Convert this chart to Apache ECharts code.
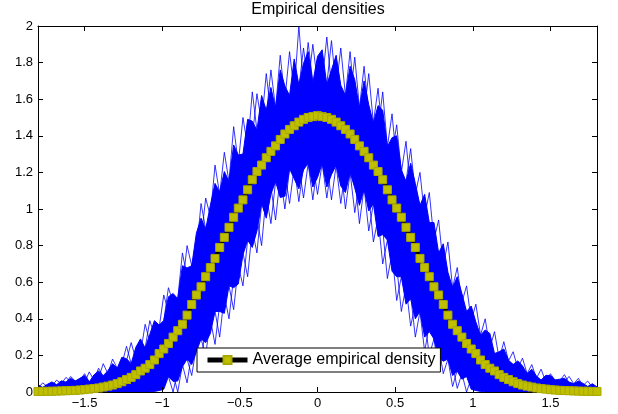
<!DOCTYPE html>
<html>
<head>
<meta charset="utf-8">
<script src="https://cdn.jsdelivr.net/npm/echarts@6/dist/echarts.min.js"></script>
<style>
html,body{margin:0;padding:0;background:#fff;}
#chart{width:618px;height:414px;}
</style>
</head>
<body>
<div id="chart"></div>
<script>
// sample grid (x)
const xs = [-1.8,-1.77,-1.74,-1.71,-1.68,-1.65,-1.62,-1.59,-1.56,-1.53,
  -1.5,-1.47,-1.44,-1.41,-1.38,-1.35,-1.32,-1.29,-1.26,-1.23,
  -1.2,-1.17,-1.14,-1.11,-1.08,-1.05,-1.02,-0.99,-0.96,-0.93,
  -0.9,-0.87,-0.84,-0.81,-0.78,-0.75,-0.72,-0.69,-0.66,-0.63,
  -0.6,-0.57,-0.54,-0.51,-0.48,-0.45,-0.42,-0.39,-0.36,-0.33,
  -0.3,-0.27,-0.24,-0.21,-0.18,-0.15,-0.12,-0.09,-0.06,-0.03,
  0,
  0.03,0.06,0.09,0.12,0.15,0.18,0.21,0.24,0.27,0.3,
  0.33,0.36,0.39,0.42,0.45,0.48,0.51,0.54,0.57,0.6,
  0.63,0.66,0.69,0.72,0.75,0.78,0.81,0.84,0.87,0.9,
  0.93,0.96,0.99,1.02,1.05,1.08,1.11,1.14,1.17,1.2,
  1.23,1.26,1.29,1.32,1.35,1.38,1.41,1.44,1.47,1.5,
  1.53,1.56,1.59,1.62,1.65,1.68,1.71,1.74,1.77,1.8];

// average empirical density
const average = [0.003,0.003,0.004,0.004,0.005,0.006,0.007,0.008,0.009,0.011,
  0.013,0.016,0.019,0.022,0.027,0.032,0.038,0.046,0.056,0.068,
  0.08,0.095,0.115,0.13,0.15,0.175,0.21,0.235,0.265,0.30,
  0.335,0.37,0.42,0.478,0.53,0.575,0.63,0.68,0.73,0.79,
  0.845,0.90,0.955,1.005,1.05,1.105,1.16,1.205,1.24,1.28,
  1.315,1.345,1.38,1.41,1.435,1.455,1.475,1.49,1.50,1.505,
  1.51,
  1.505,1.50,1.49,1.475,1.455,1.435,1.41,1.38,1.345,1.315,
  1.28,1.24,1.205,1.16,1.105,1.05,1.005,0.955,0.90,0.845,
  0.79,0.73,0.68,0.63,0.575,0.53,0.478,0.42,0.37,0.335,
  0.30,0.265,0.235,0.21,0.175,0.15,0.13,0.115,0.095,0.08,
  0.068,0.056,0.046,0.038,0.032,0.027,0.022,0.019,0.016,0.013,
  0.011,0.009,0.008,0.007,0.006,0.005,0.004,0.004,0.003,0.003];

// upper (spiky) edge of the band of empirical densities
const bandTop = [0.04,0.025,0.042,0.055,0.04,0.061,0.054,0.075,0.06,0.075,
  0.09,0.055,0.093,0.115,0.089,0.116,0.155,0.13,0.19,0.182,
  0.155,0.244,0.29,0.24,0.315,0.39,0.366,0.39,0.52,0.538,
  0.51,0.69,0.678,0.69,0.868,0.95,0.89,1.02,1.14,1.092,
  1.205,1.15,1.35,1.295,1.30,1.49,1.48,1.43,1.62,1.54,
  1.664,1.55,1.76,1.672,1.62,1.82,1.678,1.796,1.86,1.69,
  1.834,
  1.87,1.68,1.76,1.84,1.676,1.62,1.78,1.706,1.55,1.70,
  1.57,1.47,1.565,1.54,1.34,1.39,1.40,1.215,1.15,1.25,
  1.14,1.02,1.08,0.926,0.926,0.76,0.81,0.654,0.57,0.63,
  0.538,0.44,0.47,0.382,0.31,0.339,0.32,0.21,0.22,0.235,
  0.174,0.15,0.17,0.143,0.10,0.125,0.087,0.065,0.091,0.09,
  0.065,0.07,0.075,0.054,0.045,0.06,0.047,0.03,0.045,0.028];

// lower (spiky) edge of the band
const bandBottom = [0,0,0,0,0,0,0,0,0,0,
  0,0,0,0,0,0,0,0,0,0,
  0,0,0,0,0,0.003,0.008,0.015,0.085,0.058,
  0.06,0.138,0.18,0.15,0.22,0.29,0.27,0.32,0.44,0.44,
  0.43,0.58,0.57,0.59,0.75,0.83,0.79,0.88,1.03,0.95,
  1.081,1.15,1.063,1.07,1.22,1.165,1.11,1.214,1.25,1.12,
  1.172,
  1.25,1.12,1.188,1.24,1.126,1.09,1.20,1.115,1.02,1.107,
  0.989,1.03,0.85,0.86,0.83,0.66,0.63,0.63,0.48,0.51,
  0.40,0.44,0.30,0.33,0.29,0.19,0.168,0.18,0.09,0.114,
  0.07,0.085,0.015,0.008,0.003,0,0,0,0,0,
  0,0,0,0,0,0,0,0,0,0,
  0,0,0,0,0,0,0,0,0,0];

// single curves sticking out above the band
const strandHigh = [0.02,0.025,0.03,0.035,0.04,0.045,0.08,0.055,0.06,0.065,
  0.05,0.11,0.065,0.075,0.155,0.10,0.115,0.13,0.15,0.25,
  0.155,0.18,0.21,0.37,0.275,0.31,0.35,0.53,0.44,0.49,
  0.51,0.76,0.63,0.69,0.76,1.03,0.89,0.96,1.24,1.08,
  1.10,1.15,1.45,1.25,1.30,1.34,1.64,1.43,1.47,1.74,
  1.52,1.55,1.84,1.60,1.62,1.64,2.0,1.67,1.91,1.69,
  1.69,
  1.69,1.94,1.67,1.66,1.88,1.62,1.60,1.83,1.55,1.52,
  1.74,1.47,1.43,1.64,1.34,1.30,1.46,1.20,1.15,1.33,
  1.08,1.02,0.96,1.09,0.83,0.76,0.69,0.82,0.57,0.51,
  0.49,0.58,0.39,0.35,0.31,0.40,0.24,0.21,0.18,0.275,
  0.17,0.15,0.13,0.185,0.10,0.085,0.075,0.125,0.055,0.05,
  0.065,0.06,0.095,0.05,0.045,0.075,0.035,0.03,0.025,0.02];

const strandHigh2 = [0.02,0.05,0.03,0.035,0.065,0.045,0.05,0.085,0.06,0.065,
  0.10,0.055,0.065,0.13,0.085,0.10,0.18,0.13,0.15,0.17,
  0.27,0.18,0.21,0.24,0.39,0.31,0.35,0.39,0.57,0.49,
  0.51,0.57,0.80,0.69,0.76,0.83,1.06,0.96,1.02,1.08,
  1.31,1.15,1.20,1.25,1.50,1.34,1.39,1.63,1.47,1.51,
  1.76,1.55,1.58,1.60,1.86,1.64,1.66,1.88,1.68,1.90,
  1.69,
  1.69,1.68,1.92,1.66,1.64,1.62,1.86,1.58,1.55,1.78,
  1.51,1.47,1.66,1.39,1.34,1.52,1.25,1.20,1.37,1.10,
  1.08,1.20,0.96,0.89,0.83,0.94,0.69,0.63,0.57,0.68,
  0.49,0.44,0.39,0.48,0.31,0.275,0.24,0.33,0.18,0.155,
  0.17,0.22,0.13,0.115,0.10,0.15,0.075,0.065,0.055,0.10,
  0.065,0.06,0.055,0.085,0.045,0.04,0.035,0.06,0.025,0.02];

// single curves dipping below the band
const strandLow = [null,null,null,null,null,null,null,null,null,null,
  null,null,null,null,null,null,null,null,null,null,
  null,null,null,null,null,null,null,
  0.075,0.085,0.10,0.0,0.15,0.18,0.09,0.25,0.29,0.20,
  0.40,0.44,0.30,0.53,0.58,0.45,0.69,0.76,0.63,0.89,
  0.95,0.80,1.08,1.12,0.94,1.18,1.20,1.03,1.23,1.24,
  1.06,1.25,1.25,1.08,1.25,1.25,1.05,1.24,1.23,1.00,
  1.20,1.18,0.92,1.12,1.08,0.82,0.95,0.89,0.62,0.76,
  0.69,0.44,0.58,0.53,0.30,0.44,0.40,0.20,0.29,0.25,
  0.10,0.18,0.15,0.02,0.10,0.085,0.075,
  null,null,null,null,null,null,null,null,null,null,
  null,null,null,null,null,null,null,null,null,null,
  null,null,null,null,null,null,null];

const strandLow2 = [null,null,null,null,null,null,null,null,null,null,
  null,null,null,null,null,null,null,null,null,null,
  null,null,null,null,null,null,null,
  0.075,0.085,0.0,0.12,0.15,0.05,0.21,0.25,0.15,0.37,
  0.40,0.26,0.48,0.53,0.40,0.63,0.69,0.58,0.83,0.89,
  0.76,1.03,1.08,0.92,1.15,1.18,1.00,1.22,1.23,1.04,
  1.24,1.25,1.05,1.25,1.25,1.06,1.24,1.24,1.03,1.22,
  1.20,0.98,1.15,1.12,0.88,1.03,0.95,0.70,0.83,0.76,
  0.50,0.63,0.58,0.36,0.48,0.44,0.22,0.37,0.29,0.12,
  0.21,0.18,0.03,0.12,0.10,0.0,0.075,
  null,null,null,null,null,null,null,null,null,null,
  null,null,null,null,null,null,null,null,null,null,
  null,null,null,null,null,null,null];

const xTicks = [-1.5,-1,-0.5,0,0.5,1,1.5];
const yTicks = [0,0.2,0.4,0.6,0.8,1,1.2,1.4,1.6,1.8,2];
const xTickLabels = ['\u22121.5','\u22121','\u22120.5','0','0.5','1','1.5'];

const pairs = arr => xs.map((x, i) => [x, arr[i]]);

const FONT = '"Liberation Sans", Arial, Helvetica, sans-serif';
const BLUE = '#0000ff';
const STRAND = 'rgba(0,0,255,0.8)';

function xAxisOpt(pos, labels) {
  return {
    type: 'value', position: pos, min: -1.8, max: 1.8, z: 3,
    axisLine: { show: true, onZero: false, lineStyle: { color: '#000', width: 1 } },
    axisTick: { show: true, inside: true, length: 5, customValues: xTicks, lineStyle: { color: '#000' } },
    axisLabel: {
      show: labels, customValues: xTicks, color: '#000', fontSize: 13, fontFamily: FONT, margin: 5,
      formatter: v => { const i = xTicks.indexOf(v); return i >= 0 ? xTickLabels[i] : ''; }
    },
    splitLine: { show: false }
  };
}
function yAxisOpt(pos, labels) {
  return {
    type: 'value', position: pos, min: 0, max: 2, z: 3,
    axisLine: { show: true, onZero: false, lineStyle: { color: '#000', width: 1 } },
    axisTick: { show: true, inside: true, length: 5, customValues: yTicks, lineStyle: { color: '#000' } },
    axisLabel: { show: labels, customValues: yTicks, color: '#000', fontSize: 13, fontFamily: FONT, margin: 5 },
    splitLine: { show: false }
  };
}
function strand(name, arr) {
  return { type: 'line', name: name, data: pairs(arr), symbol: 'none', connectNulls: false,
    lineStyle: { width: 1, color: STRAND }, z: 2, silent: true };
}

const chart = echarts.init(document.getElementById('chart'), null, { renderer: 'canvas' });
chart.setOption({
  animation: false,
  backgroundColor: '#fff',
  title: {
    text: 'Empirical densities', left: 318, top: 2, padding: 0, textAlign: 'center',
    textStyle: { fontSize: 16, fontWeight: 'normal', color: '#000', fontFamily: FONT, lineHeight: 16 }
  },
  grid: { left: 38, right: 21, top: 26, bottom: 22, containLabel: false },
  xAxis: [xAxisOpt('bottom', true), xAxisOpt('top', false)],
  yAxis: [yAxisOpt('left', true), yAxisOpt('right', false)],
  legend: {
    data: ['Average empirical density'],
    left: 197, top: 348,
    padding: [4, 5, 4, 8],
    itemWidth: 40, itemHeight: 10,
    lineStyle: { width: 5, color: '#000' },
    backgroundColor: '#fff', borderColor: '#000', borderWidth: 1, borderRadius: 0,
    textStyle: { fontSize: 16, color: '#000', fontFamily: FONT }
  },
  series: [
    // blue fill under the upper edge
    { type: 'line', name: 'bandTop', data: pairs(bandTop), symbol: 'none',
      lineStyle: { width: 1, color: BLUE }, areaStyle: { color: BLUE, opacity: 1, origin: 'start' },
      z: 2, silent: true },
    // white fill under the lower edge (empty region below the band)
    { type: 'line', name: 'bandBottom', data: pairs(bandBottom), symbol: 'none',
      lineStyle: { width: 1, color: BLUE }, areaStyle: { color: '#fff', opacity: 1, origin: 'start' },
      z: 2, silent: true },
    strand('strandHigh', strandHigh),
    strand('strandHigh2', strandHigh2),
    strand('strandLow', strandLow),
    strand('strandLow2', strandLow2),
    { type: 'line', name: 'Average empirical density', data: pairs(average),
      symbol: 'rect', symbolSize: 8, showSymbol: true, showAllSymbol: true, clip: false,
      lineStyle: { width: 4, color: '#000' },
      itemStyle: { color: '#bfbf00', borderColor: '#a8a800', borderWidth: 1 },
      z: 5, silent: true }
  ]
});
</script>
</body>
</html>
